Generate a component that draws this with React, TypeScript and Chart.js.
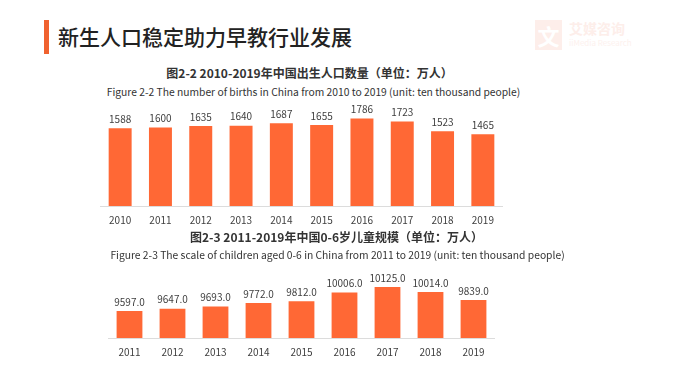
import React, { useEffect, useRef } from "react";
import { Chart, registerables } from "chart.js";

Chart.register(...registerables);

const birthYears = ["2010", "2011", "2012", "2013", "2014", "2015", "2016", "2017", "2018", "2019"];
const births = [1588, 1600, 1635, 1640, 1687, 1655, 1786, 1723, 1523, 1465];
const childYears = ["2011", "2012", "2013", "2014", "2015", "2016", "2017", "2018", "2019"];
const children = [9597, 9647, 9693, 9772, 9812, 10006, 10125, 10014, 9839];
const birthAxis = [0, 2000];
const childAxis = [9000, 10500];

const FONT = "'Noto Sans CJK SC', 'Noto Sans', sans-serif";
const BAR = "#FF6835";
const TEXT = "#404040";

function makeLabelPlugin(fmt: (v: number) => string) {
  return {
    id: "valueLabels",
    afterDatasetsDraw(chart: any) {
      const ctx = chart.ctx;
      const meta = chart.getDatasetMeta(0);
      const data = chart.data.datasets[0].data as number[];
      ctx.save();
      ctx.font = `10px ${FONT}`;
      ctx.fillStyle = TEXT;
      ctx.textAlign = "center";
      ctx.textBaseline = "bottom";
      meta.data.forEach((el: any, i: number) => {
        ctx.fillText(fmt(data[i]), el.x, el.y - 4);
      });
      ctx.restore();
    },
  };
}

function BarChart(props: {
  labels: string[];
  values: number[];
  range: number[];
  barPct: number;
  fmt: (v: number) => string;
  left: number;
  top: number;
  width: number;
  height: number;
}) {
  const ref = useRef<HTMLCanvasElement | null>(null);
  useEffect(() => {
    if (!ref.current) return;
    const chart = new Chart(ref.current, {
      type: "bar",
      data: {
        labels: props.labels,
        datasets: [
          {
            data: props.values,
            backgroundColor: BAR,
            categoryPercentage: 1,
            barPercentage: props.barPct,
          },
        ],
      },
      options: {
        responsive: false,
        animation: false,
        devicePixelRatio: 1,
        layout: { padding: { top: 8, left: 0, right: 0, bottom: 0 } },
        plugins: {
          legend: { display: false },
          tooltip: { enabled: false },
          title: { display: false },
        },
        scales: {
          x: {
            grid: { display: false, drawTicks: false },
            border: { display: true, color: "#dcdcdc", width: 1 },
            ticks: { padding: 8, color: TEXT, font: { family: FONT, size: 10 } },
          },
          y: { display: false, min: props.range[0], max: props.range[1] },
        },
      },
      plugins: [makeLabelPlugin(props.fmt)],
    } as any);
    return () => chart.destroy();
  }, []);
  return (
    <canvas
      ref={ref}
      width={props.width}
      height={props.height}
      style={{
        position: "absolute",
        left: props.left,
        top: props.top,
        width: props.width,
        height: props.height,
      }}
    />
  );
}

export default function App() {
  const center: React.CSSProperties = {
    position: "absolute",
    left: 0,
    width: 677,
    textAlign: "center",
    whiteSpace: "nowrap",
    fontFamily: FONT,
    color: "#333",
  };
  return (
    <div
      style={{
        position: "fixed",
        left: 0,
        top: 0,
        width: 677,
        height: 368,
        background: "#fff",
        overflow: "hidden",
        fontFamily: FONT,
      }}
    >
      <div style={{ position: "absolute", left: 44, top: 20, width: 5, height: 34, background: "#F0622F" }} />
      <div
        style={{
          position: "absolute",
          left: 58,
          top: 21,
          fontSize: 21,
          lineHeight: "30px",
          fontWeight: 500,
          color: "#222",
          fontFamily: FONT,
        }}
      >
        新生人口稳定助力早教行业发展
      </div>
      <div style={{ position: "absolute", left: 535, top: 20, width: 27, height: 30, background: "#FDEEEA" }}>
        <div style={{ color: "#fff", fontSize: 22, lineHeight: "30px", textAlign: "center", fontWeight: 700 }}>文</div>
      </div>
      <div style={{ position: "absolute", left: 569, top: 19, fontSize: 14, lineHeight: "18px", color: "#FDEEEA", fontWeight: 700 }}>
        艾媒咨询
      </div>
      <div style={{ position: "absolute", left: 569, top: 38, fontSize: 8, lineHeight: "10px", color: "#FDF1EE" }}>
        iiMedia Research
      </div>

      <div style={{ ...center, left: -29, top: 64, fontSize: 12, lineHeight: "18px", fontWeight: 700 }}>
        图2-2 2010-2019年中国出生人口数量（单位：万人）
      </div>
      <div style={{ ...center, left: -25, top: 83, fontSize: 10.3, lineHeight: "18px" }}>
        Figure 2-2 The number of births in China from 2010 to 2019 (unit: ten thousand people)
      </div>
      <BarChart
        labels={birthYears}
        values={births}
        range={birthAxis}
        barPct={0.57}
        fmt={(v) => String(v)}
        left={100}
        top={100}
        width={403}
        height={134}
      />

      <div style={{ ...center, left: -2, top: 228, fontSize: 12, lineHeight: "18px", fontWeight: 700 }}>
        图2-3 2011-2019年中国0-6岁儿童规模（单位：万人）
      </div>
      <div style={{ ...center, left: -1, top: 246, fontSize: 10.3, lineHeight: "18px" }}>
        Figure 2-3 The scale of children aged 0-6 in China from 2011 to 2019 (unit: ten thousand people)
      </div>
      <BarChart
        labels={childYears}
        values={children}
        range={childAxis}
        barPct={0.6}
        fmt={(v) => v.toFixed(1)}
        left={108}
        top={262}
        width={387}
        height={104}
      />
    </div>
  );
}
